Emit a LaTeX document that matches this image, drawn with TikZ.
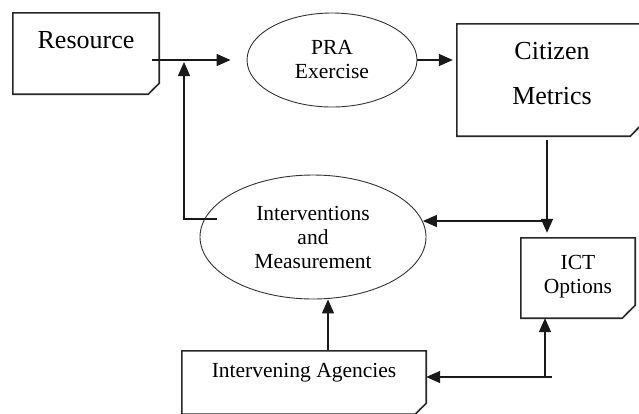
\documentclass[tikz,border=0pt]{standalone}
\usepackage{fontspec}
\setmainfont{Liberation Serif}
\usetikzlibrary{arrows.meta, positioning, shapes.geometric}
\tikzset{
    flowchart/.style={>={Triangle[length=14pt,width=12pt]}, x=1pt, y=-1pt},
    bigtext/.style={font=\fontsize{26pt}{45pt}\selectfont},
    smalltext/.style={font=\fontsize{21.5pt}{24pt}\selectfont},
    notebox/.style={inner sep=0pt, align=center},
    oval/.style={draw=black!80, line width=0.9pt, ellipse, inner sep=0pt, align=center, smalltext},
    boxline/.style={draw=black!85, line width=1.6pt},
    arrow/.style={->, line width=1.4pt, black!90},
}
% outline of a box with a folded lower right corner
\newcommand{\foldbox}[2]{%
    \draw[boxline] (#1.north west) -- (#1.north east) -- ([yshift=#2]#1.south east)
        -- ([xshift=-#2]#1.south east) -- (#1.south west) -- cycle;
    \filldraw[draw=black!85, line width=0.6pt, fill=gray!35] ([yshift=#2]#1.south east)
        -- ([xshift=-#2]#1.south east) -- ([shift={(-0.6*#2,0.45*#2)}]#1.south east) -- cycle;
}

\begin{document}
\begin{tikzpicture}[flowchart]
    \useasboundingbox (0,0) rectangle (639,413);
    \clip (0,0) rectangle (639,413);

    \node[notebox, bigtext, minimum width=146pt, minimum height=81pt,
          text height=18pt, text depth=29pt]                (res)  at (86,53.5)  {Resource};
    \node[oval, minimum width=170pt, minimum height=94pt]  (pra)  at (332,60)   {PRA\\Exercise};
    \node[notebox, bigtext, minimum width=190pt, minimum height=112pt,
          text depth=13pt]                                  (cit)  at (552,80)   {Citizen\\Metrics};
    \node[notebox, smalltext, minimum width=114pt, minimum height=80pt,
          text depth=8pt]                                   (ict)  at (578,278)  {ICT\\Options};
    \node[oval, minimum width=226pt, minimum height=124pt] (intv) at (313,237)  {Interventions\\and\\Measurement};
    \node[notebox, smalltext, minimum width=244pt, minimum height=63pt,
          text height=16pt, text depth=26pt]                (agn)  at (304,382.5) {Intervening Agencies};

    \foldbox{res}{11pt}
    \foldbox{cit}{17pt}
    \foldbox{ict}{13pt}
    \foldbox{agn}{11pt}

    \coordinate (jn) at (184,60);
    \coordinate (fb) at (184,219);
    \coordinate (cm) at (547,221);
    \coordinate (ia) at (545,377);

    \draw[arrow] ([shift={(-7pt,-6.5pt)}]res.east) -- ([xshift=-16pt]pra.west);
    \draw[arrow] ([xshift=17pt]intv.west |- fb) -- (fb) -- ([yshift=-2pt]jn);
    \draw[arrow] (pra.east) -- ([xshift=-4pt]pra.east -| cit.west);

    \draw[arrow] ([yshift=-4pt]cit.south -| cm) -- ([yshift=5pt]ict.north -| cm);
    \draw[arrow] (cm) -- (cm -| intv.8);

    \draw[arrow] ([xshift=24pt]agn.north) -- ([xshift=24pt]agn.north |- intv.south);
    \draw[arrow] (ia) -- (ia |- ict.south);
    \draw[arrow] ([xshift=7pt]ia) -- (ia -| agn.east);
\end{tikzpicture}
\end{document}
